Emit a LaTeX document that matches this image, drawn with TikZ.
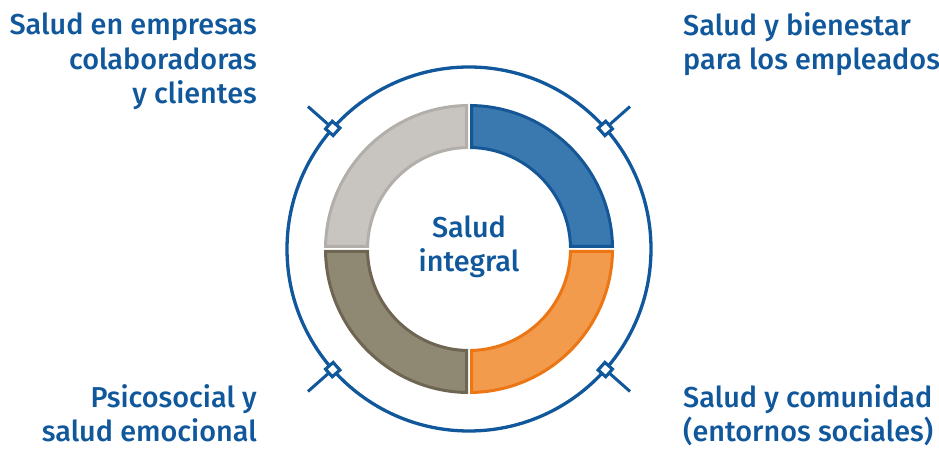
\documentclass[tikz,border=0pt]{standalone}
\usepackage{fontspec}
\setmainfont{Fira Sans Medium}
\usetikzlibrary{calc}
\definecolor{txtblue}{RGB}{16,88,155}
\definecolor{ringblue}{RGB}{16,88,155}
\definecolor{blueF}{RGB}{58,120,176}
\definecolor{blueB}{RGB}{21,87,150}
\definecolor{orangeF}{RGB}{243,155,76}
\definecolor{orangeB}{RGB}{236,118,20}
\definecolor{grayF}{RGB}{200,196,192}
\definecolor{grayB}{RGB}{178,174,170}
\definecolor{taupeF}{RGB}{143,136,115}
\definecolor{taupeB}{RGB}{110,102,82}
\begin{document}
\begin{tikzpicture}[x=1pt,y=1pt,
  lbl/.style={text=txtblue,inner sep=0pt,font=\fontsize{28.8}{34.8}\selectfont},
  tickmark/.style={draw=ringblue,line width=3pt},
  diam/.style={draw=ringblue,fill=white,line width=3pt,minimum size=10pt,inner sep=0pt,shape=rectangle},
  seg/.style={line width=3pt,line join=miter}]
\useasboundingbox (0,0) rectangle (939,452);
\coordinate (C) at (469,203);
\def\ri{101.5}\def\ro{143.5}\def\g{2.5}
\pgfmathsetmacro\ai{asin(\g/\ri)}
\pgfmathsetmacro\ao{asin(\g/\ro)}
% segments
\foreach \s/\f/\b in {0/blueF/blueB,90/grayF/grayB,180/taupeF/taupeB,270/orangeF/orangeB}{
  \draw[seg,fill=\f,draw=\b,shift={(C)}]
    ({\s+\ai}:\ri) -- ({\s+\ao}:\ro)
    arc[start angle={\s+\ao},end angle={\s+90-\ao},radius=\ro]
    -- ({\s+90-\ai}:\ri)
    arc[start angle={\s+90-\ai},end angle={\s+\ai},radius=\ri] -- cycle;
}
% outer ring
\draw[ringblue,line width=3.3pt] (C) circle[radius=182];
% ticks and diamonds
\foreach \a/\n in {41.5/d1,138.5/d2,221.5/d3,318.5/d4}{
  \coordinate (\n o) at ($(C)+(\a:215)$);
  \node[diam,rotate=\a] (\n) at ($(C)+(\a:182)$) {};
  \draw[tickmark] (\n) -- (\n o);
  \node[diam,rotate=\a] at (\n) {};
}
% labels (base anchor = baseline of last line)
\node[lbl,anchor=base east,align=right] (tl) at (257,348) {Salud en empresas\\colaboradoras\\y clientes};
\node[lbl,anchor=base west,align=left] (tr) at (683,382) {Salud y bienestar\\para los empleados};
\node[lbl,anchor=base east,align=right] (bl) at (257,10) {Psicosocial y\\salud emocional};
\node[lbl,anchor=base west,align=left] (br) at (683,10) {Salud y comunidad\\(entornos sociales)};
\node[lbl,anchor=base,align=center] (c) at (469,180) {Salud\\integral};
\end{tikzpicture}
\end{document}
